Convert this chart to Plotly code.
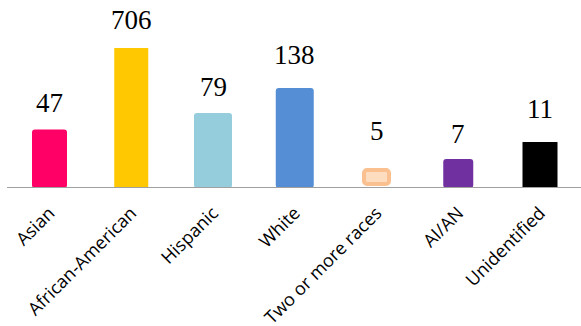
import plotly.graph_objects as go

categories = ["Asian", "African-American", "Hispanic", "White", "Two or more races", "AI/AN", "Unidentified"]
counts = [47, 706, 79, 138, 5, 7, 11]
# bar heights as drawn in the picture (the picture's bars are not to scale with counts)
bar_tops = [58.5, 140, 75, 100, 18, 29, 46]
bar_bases = [0, 0, 0, 0, 4, 0, 0]

colors = ["#FF0066", "#FFC800", "#96CDDC", "#558ED5", "#FDDCBF", "#7030A0", "#000000"]
line_colors = ["#FF0066", "#FFC800", "#96CDDC", "#558ED5", "#FAC090", "#7030A0", "#000000"]
line_widths = [0, 0, 0, 0, 4, 0, 0]
widths_px = [35, 34, 38, 38, 25, 30, 35]
radii = [3, 0, 3, 3, 3, 3, 0]
label_shift = [9.5, 11, 9, 16, 22, 8, 16]

W, H = 581, 326
first_px, step_px = 49.5, 81.75
x0 = -first_px / step_px
x1 = x0 + W / step_px

fig = go.Figure()
for i, c in enumerate(categories):
    fig.add_trace(go.Bar(
        x=[c], y=[bar_tops[i] - bar_bases[i]], base=[bar_bases[i]],
        width=widths_px[i] / step_px,
        marker=dict(color=colors[i], cornerradius=radii[i],
                    line=dict(color=line_colors[i], width=line_widths[i])),
        showlegend=False, hoverinfo="skip",
    ))
    fig.add_annotation(x=c, y=bar_tops[i], text=str(counts[i]), showarrow=False,
                       yanchor="bottom", yshift=label_shift[i],
                       font=dict(family="Liberation Serif", size=27, color="#000"))

fig.add_shape(type="line", xref="paper", yref="y", x0=7 / W, x1=1, y0=0, y1=0,
              line=dict(color="#A0A0A0", width=2), layer="above")

fig.update_layout(
    width=W, height=H, margin=dict(l=0, r=0, t=0, b=138, autoexpand=False),
    plot_bgcolor="white", paper_bgcolor="white", barmode="overlay",
    xaxis=dict(range=[x0, x1], tickangle=-45, showline=False, showgrid=False, ticks="",
               ticklabelstandoff=10, automargin=False,
               tickfont=dict(family="Open Sans", size=18, color="#000"), categoryorder="array",
               categoryarray=categories),
    yaxis=dict(range=[0, 188], visible=False),
)
fig.write_html("out.html")
